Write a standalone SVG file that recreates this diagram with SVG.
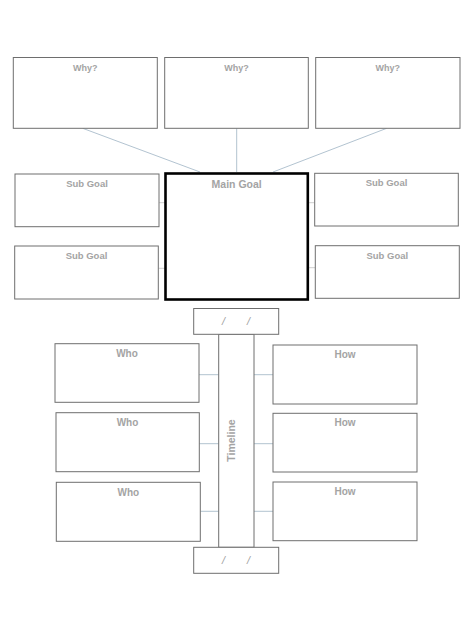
<svg xmlns="http://www.w3.org/2000/svg" width="474" height="632" viewBox="0 0 474 632">
<style>
.box{fill:#fff;stroke:#6e6e6e;stroke-width:1}
.main{fill:#fff;stroke:#000;stroke-width:2.6}
.lbl{font-family:"Liberation Sans",Arial,sans-serif;font-weight:bold;font-size:9px;fill:#a4a4a4;text-anchor:middle}
.sg{font-size:9.5px}
.ww{font-size:10px}
.ml{font-size:10.5px}
.conn{stroke:#a9bccb;stroke-width:0.9;fill:none}
.conn2{stroke:#c8c8c8;stroke-width:0.9;fill:none}
.date{font-family:"Liberation Sans",Arial,sans-serif;font-style:italic;font-size:11px;fill:#a0a0a0;text-anchor:middle}
</style>
<rect width="474" height="632" fill="#fff"/>
<g id="connectors">
<line class="conn" x1="82.7" y1="128.3" x2="200" y2="172"/>
<line class="conn" x1="236.7" y1="128.3" x2="236.7" y2="172"/>
<line class="conn" x1="386.7" y1="128.3" x2="273" y2="172"/>
<line class="conn2" x1="159" y1="202.7" x2="165.3" y2="202.7"/>
<line class="conn2" x1="158.3" y1="268.3" x2="165.3" y2="268.3"/>
<line class="conn2" x1="308" y1="202.7" x2="314.7" y2="202.7"/>
<line class="conn2" x1="308" y1="267.7" x2="315.3" y2="267.7"/>
<line class="conn" x1="199" y1="374.7" x2="218.7" y2="374.7"/>
<line class="conn" x1="254" y1="374.7" x2="273" y2="374.7"/>
<line class="conn" x1="199.3" y1="443.7" x2="218.7" y2="443.7"/>
<line class="conn" x1="254" y1="443.7" x2="273" y2="443.7"/>
<line class="conn" x1="200.3" y1="511.3" x2="218.7" y2="511.3"/>
<line class="conn" x1="254" y1="511.3" x2="273" y2="511.3"/>
</g>
<g id="why1"><rect class="box" x="13.3" y="57.5" width="144" height="70.8"/><text class="lbl" x="85.3" y="70.5">Why?</text></g>
<g id="why2"><rect class="box" x="164.7" y="57.5" width="143.6" height="70.8"/><text class="lbl" x="236.5" y="70.5">Why?</text></g>
<g id="why3"><rect class="box" x="315.7" y="57.5" width="144.3" height="70.8"/><text class="lbl" x="387.8" y="70.5">Why?</text></g>
<g id="subgoal1"><rect class="box" x="15" y="174" width="144" height="52.7"/><text class="lbl sg" x="87" y="186.5">Sub Goal</text></g>
<g id="subgoal2"><rect class="box" x="314.7" y="173.3" width="143.6" height="52.7"/><text class="lbl sg" x="386.5" y="186">Sub Goal</text></g>
<g id="subgoal3"><rect class="box" x="14.7" y="246" width="143.6" height="53"/><text class="lbl sg" x="86.5" y="258.5">Sub Goal</text></g>
<g id="subgoal4"><rect class="box" x="315.3" y="245.7" width="144" height="52.6"/><text class="lbl sg" x="387.3" y="258.5">Sub Goal</text></g>
<g id="maingoal"><rect class="main" x="165.5" y="173.5" width="142.3" height="126"/><text class="lbl ml" x="236.7" y="187.5">Main Goal</text></g>
<g id="timeline"><rect class="box" x="218.7" y="334.3" width="35.3" height="213"/><text class="lbl ml" transform="translate(235,440.5) rotate(-90)">Timeline</text></g>
<g id="datetop"><rect class="box" x="193.7" y="308.5" width="85" height="25.8"/><text class="date" x="223.5" y="325">/</text><text class="date" x="248.5" y="325">/</text></g>
<g id="datebottom"><rect class="box" x="193.7" y="547.3" width="85" height="26"/><text class="date" x="223.5" y="564">/</text><text class="date" x="248.5" y="564">/</text></g>
<g id="who1"><rect class="box" x="55" y="343.7" width="144" height="58.6"/><text class="lbl ww" x="127" y="356.5">Who</text></g>
<g id="who2"><rect class="box" x="56" y="412.7" width="143.3" height="59"/><text class="lbl ww" x="127.5" y="425.5">Who</text></g>
<g id="who3"><rect class="box" x="56.3" y="482.3" width="144" height="59"/><text class="lbl ww" x="128.3" y="495.5">Who</text></g>
<g id="how1"><rect class="box" x="273" y="345" width="144" height="59"/><text class="lbl ww" x="345" y="358">How</text></g>
<g id="how2"><rect class="box" x="273" y="413.3" width="144" height="58.7"/><text class="lbl ww" x="345" y="426">How</text></g>
<g id="how3"><rect class="box" x="273" y="482" width="144" height="58.7"/><text class="lbl ww" x="345" y="495">How</text></g>
</svg>
